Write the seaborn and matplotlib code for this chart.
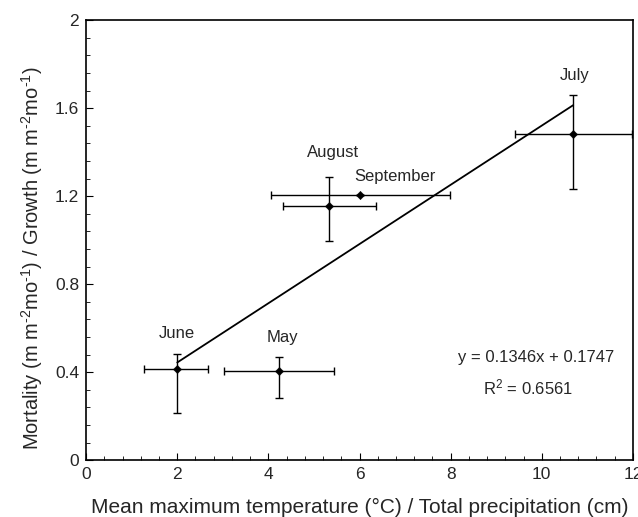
import numpy as np
import pandas as pd
import matplotlib
matplotlib.use("Agg")
import matplotlib.pyplot as plt
import seaborn as sns
from matplotlib.ticker import MultipleLocator

months = ['May', 'June', 'July', 'August', 'September']
x_vals = [4.23, 2.0, 10.69, 5.34, 6.02]
y_vals = [0.403, 0.416, 1.481, 1.154, 1.204]
x_lo = [3.02, 1.27, 9.42, 4.33, 4.06]
x_hi = [5.43, 2.67, 11.99, 6.36, 7.98]
y_lo = [0.282, 0.216, 1.232, 0.995, 1.204]
y_hi = [0.467, 0.483, 1.662, 1.286, 1.204]
label_x = [4.3, 2.0, 10.72, 5.42, 6.78]
label_y = [0.558, 0.575, 1.747, 1.40, 1.29]

slope = 0.1346
intercept = 0.1747
r2 = 0.6561

df = pd.DataFrame({'month': months, 'x': x_vals, 'y': y_vals,
                   'xlo': x_lo, 'xhi': x_hi, 'ylo': y_lo, 'yhi': y_hi})

sns.set_style("ticks")
plt.rcParams['font.family'] = ['Liberation Sans', 'DejaVu Sans']
plt.rcParams['mathtext.fontset'] = 'custom'
plt.rcParams['mathtext.rm'] = 'Liberation Sans'
plt.rcParams['mathtext.it'] = 'Liberation Sans:italic'
plt.rcParams['mathtext.default'] = 'rm'

fig = plt.figure(figsize=(6.38, 5.17), dpi=100)
ax = fig.add_axes([0.135, 0.110, 0.857, 0.851])

# error bars
xerr = np.array([df['x'] - df['xlo'], df['xhi'] - df['x']])
yerr = np.array([df['y'] - df['ylo'], df['yhi'] - df['y']])
ax.errorbar(df['x'], df['y'], xerr=xerr, yerr=yerr, fmt='none',
            ecolor='black', elinewidth=1, capsize=3, capthick=1, zorder=2)
sns.scatterplot(data=df, x='x', y='y', ax=ax, color='black', marker='D',
                s=18, edgecolor='black', zorder=3, legend=False)

# regression line
fit_x = np.array([df['x'].min(), df['x'].max()])
fit = pd.DataFrame({'x': fit_x, 'y': slope * fit_x + intercept})
sns.lineplot(data=fit, x='x', y='y', ax=ax, color='black', linewidth=1.3)

for m, lx, ly in zip(months, label_x, label_y):
    ax.text(lx, ly, m, ha='center', va='center', fontsize=12)

ax.text(11.6, 0.465, f'y = {slope}x + {intercept}', ha='right', va='center', fontsize=12)
ax.text(9.7, 0.33, f'R$^2$ = {r2}', ha='center', va='center', fontsize=12)

ax.set_xlim(0, 12)
ax.set_ylim(0, 2)
ax.xaxis.set_major_locator(MultipleLocator(2))
ax.xaxis.set_minor_locator(MultipleLocator(0.4))
ax.yaxis.set_major_locator(MultipleLocator(0.4))
ax.yaxis.set_minor_locator(MultipleLocator(0.08))
ax.set_yticks([0, 0.4, 0.8, 1.2, 1.6, 2])
ax.set_yticklabels(['0', '0.4', '0.8', '1.2', '1.6', '2'])
ax.tick_params(which='both', direction='in', labelsize=12.5, color='black')
ax.tick_params(which='major', length=5, pad=5)
ax.tick_params(which='minor', length=3)
for s in ax.spines.values():
    s.set_color('black')
    s.set_linewidth(1.2)

ax.set_xlabel('Mean maximum temperature (\u00b0C) / Total precipitation (cm)', fontsize=15)
ax.xaxis.set_label_coords(0.5, -0.085)
ax.set_ylabel('Mortality (m m$^{\u2010 2}$mo$^{\u2010 1}$) / Growth (m m$^{\u2010 2}$mo$^{\u2010 1}$)', fontsize=14.5)
ax.yaxis.set_label_coords(-0.076, 0.459)

fig.savefig('out.png', dpi=100)
